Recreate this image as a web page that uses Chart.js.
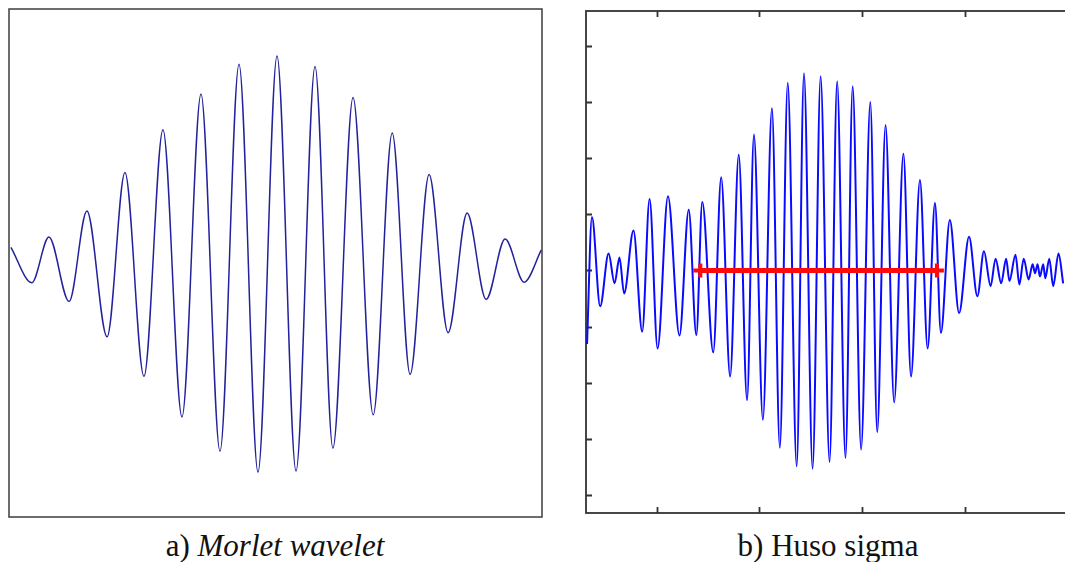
<!DOCTYPE html>
<html>
<head>
<meta charset="utf-8">
<title>Morlet wavelet / Huso sigma</title>
<script src="https://cdn.jsdelivr.net/npm/chart.js@4"></script>
<style>
    html, body { margin: 0; padding: 0; background: #fff; overflow: hidden; }
    body { position: relative; width: 1065px; height: 562px; }
    canvas { position: absolute; top: 0; }
    .caption {
        position: absolute;
        top: 530px;
        font-family: "Liberation Serif", "DejaVu Serif", "Times New Roman", Times, serif;
        font-size: 31px;
        line-height: 31px;
        color: #111;
        white-space: nowrap;
        transform: translateX(-50%);
    }
</style>
</head>
<body>
<canvas id="morletChart" width="552" height="527" style="left:0"></canvas>
<canvas id="spindleChart" width="520" height="524" style="left:575px"></canvas>
<div class="caption" style="left:275px">a) <i>Morlet wavelet</i></div>
<div class="caption" style="left:828px">b) Huso sigma</div>

<script>
// a) Morlet wavelet: extrema (time in periods, amplitude normalised)
var morletT = [-7.0, -6.45, -6.0, -5.47, -5.0, -4.47, -4.0, -3.5, -3.0, -2.5, -2.0, -1.5, -1.0, -0.5,
    0.0, 0.5, 1.0, 1.47, 2.0, 2.53, 3.03, 3.5, 4.0, 4.5, 5.0, 5.5, 6.0, 6.5, 6.95];
var morletAmp = [0.08, -0.09, 0.13, -0.18, 0.255, -0.35, 0.44, -0.54, 0.645, -0.735, 0.817, -0.90, 0.96, -1.0,
    1.0, -0.995, 0.95, -0.885, 0.80, -0.725, 0.63, -0.53, 0.43, -0.33, 0.245, -0.17, 0.12, -0.087, 0.067];

// b) Sigma spindle: samples and amplitude (uV) of each turning point
var spindleSample = [32.3, 37.1, 45.1, 53.3, 59.1, 63.9, 68.4, 77.5, 86.0, 93.2,
    101.0, 111.1, 122.3, 131.3, 138.7, 144.5, 155.2, 162.9, 171.6, 180.0,
    188.1, 194.8, 203.5, 212.3, 220.0, 227.7, 236.4, 243.5, 251.9, 259.7,
    268.4, 275.8, 283.9, 290.9, 299.1, 308.1, 314.8, 322.9, 331.3, 340.3,
    347.7, 356.4, 363.9, 371.0, 376.8, 385.5, 394.5, 404.2, 412.3, 418.7,
    425.2, 430.0, 435.5, 440.3, 443.5, 449.4, 453.2, 457.4, 462.2, 466.1,
    468.4, 470.9, 473.2, 476.4, 478.4, 482.3, 486.1, 491.3, 495.8];
var spindleAmp = [-13.1, 9.5, -6.4, 3.0, -2.3, 2.3, -4.1, 7.1, -10.9, 12.7,
    -13.9, 13.2, -11.6, 10.8, -11.5, 12.2, -14.6, 16.6, -18.9, 20.6,
    -23.1, 24.2, -26.6, 28.9, -31.6, 33.4, -34.9, 35.1, -35.3, 34.6,
    -34.1, 33.7, -33.4, 32.8, -31.9, 30.0, -28.8, 25.9, -23.5, 20.8,
    -18.9, 16.1, -13.9, 12.0, -11.1, 9.0, -7.6, 6.0, -4.6, 3.4,
    -2.8, 2.1, -2.3, 2.1, -1.9, 2.8, -2.5, 2.1, -1.6, 1.1,
    -0.5, 1.1, -1.1, 1.1, -1.4, 2.1, -2.8, 3.0, -2.3];

// spindle duration marker (start / end sample) and its level
var sigmaSpan = [142.6, 372.9];
var sigmaLevel = 0;

// axis ranges and tick steps of panel b
var spindleRangeX = [31.3, 516.1];
var spindleRangeY = [-43.2, 46.2];
var spindleStepX = 100;
var spindleStepY = 10;

function toPoints(xs, ys) {
    return xs.map(function(x, i) {
        return {x: x, y: ys[i]};
    });
}

// box around the plot area, with optional inward ticks (MATLAB style)
var framePlugin = {
    id: 'frame',
    beforeDatasetsDraw: function(chart, args, opts) {
        var a = chart.chartArea;
        var ctx = chart.ctx;
        ctx.save();
        ctx.strokeStyle = opts.color;
        ctx.lineWidth = opts.width;
        ctx.strokeRect(a.left, a.top, a.right - a.left, a.bottom - a.top);
        if (opts.ticks) {
            var len = opts.tickLength;
            var sx = chart.scales.x;
            var sy = chart.scales.y;
            ctx.beginPath();
            sx.ticks.forEach(function(t) {
                if (t.value <= sx.min || t.value >= sx.max) {
                    return;
                }
                var px = Math.round(sx.getPixelForValue(t.value)) + 0.5;
                ctx.moveTo(px, a.top);
                ctx.lineTo(px, a.top + len);
                ctx.moveTo(px, a.bottom);
                ctx.lineTo(px, a.bottom - len);
            });
            sy.ticks.forEach(function(t) {
                if (t.value <= sy.min || t.value >= sy.max) {
                    return;
                }
                var py = Math.round(sy.getPixelForValue(t.value)) + 0.5;
                ctx.moveTo(a.left, py);
                ctx.lineTo(a.left + len, py);
                ctx.moveTo(a.right, py);
                ctx.lineTo(a.right - len, py);
            });
            ctx.stroke();
        }
        ctx.restore();
    }
};

var hiddenAxis = function(min, max, step) {
    return {
        type: 'linear',
        min: min,
        max: max,
        grid: {display: false, drawTicks: false},
        border: {display: false},
        ticks: {display: false, stepSize: step, includeBounds: false}
    };
};

new Chart(document.getElementById('morletChart'), {
    type: 'line',
    data: {
        datasets: [{
            data: toPoints(morletT, morletAmp),
            borderColor: '#22229c',
            borderWidth: 1.5,
            pointRadius: 0,
            cubicInterpolationMode: 'monotone',
            borderJoinStyle: 'round'
        }]
    },
    options: {
        responsive: false,
        animation: false,
        layout: {padding: {left: 9, top: 9, right: 10, bottom: 10}},
        scales: {
            x: hiddenAxis(-7.05, 6.97, 1),
            y: hiddenAxis(-1.216, 1.226, 0.5)
        },
        plugins: {
            legend: {display: false},
            tooltip: {enabled: false},
            frame: {color: '#3c3c3c', width: 1.5, ticks: false}
        }
    },
    plugins: [framePlugin]
});

new Chart(document.getElementById('spindleChart'), {
    type: 'line',
    data: {
        datasets: [{
            data: toPoints(sigmaSpan, [sigmaLevel, sigmaLevel]),
            borderColor: '#ff0a0a',
            borderWidth: 5,
            pointStyle: 'cross',
            pointRadius: 7,
            pointBorderWidth: 4,
            pointBorderColor: '#ff0a0a',
            pointBackgroundColor: '#ff0a0a'
        }, {
            data: toPoints(spindleSample, spindleAmp),
            borderColor: '#0a0aff',
            borderWidth: 2,
            pointRadius: 0,
            cubicInterpolationMode: 'monotone',
            borderJoinStyle: 'round'
        }]
    },
    options: {
        responsive: false,
        animation: false,
        layout: {padding: {left: 9, top: 7, right: 10, bottom: 10}},
        scales: {
            x: hiddenAxis(spindleRangeX[0], spindleRangeX[1], spindleStepX),
            y: hiddenAxis(spindleRangeY[0], spindleRangeY[1], spindleStepY)
        },
        plugins: {
            legend: {display: false},
            tooltip: {enabled: false},
            frame: {color: '#333333', width: 1.8, ticks: true, tickLength: 6}
        }
    },
    plugins: [framePlugin]
});
</script>
</body>
</html>
